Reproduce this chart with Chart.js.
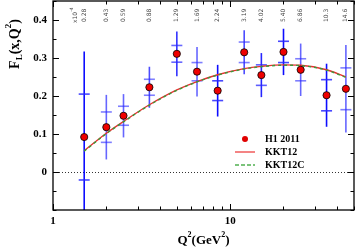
<!DOCTYPE html>
<html>
<head>
<meta charset="utf-8">
<script src="https://cdn.jsdelivr.net/npm/chart.js@4/dist/chart.umd.min.js"></script>
<style>
  html, body { margin: 0; padding: 0; background: #fff; }
  #wrap { width: 357px; height: 250px; }
</style>
</head>
<body>
<div id="wrap"><canvas id="flChart"></canvas></div>
<script>
// H1 2011 data points
const q2 = [1.5, 2, 2.5, 3.5, 5, 6.5, 8.5, 12, 15, 20, 25, 35, 45];
const fl = [0.092, 0.118, 0.148, 0.223, 0.311, 0.264, 0.214, 0.315, 0.255, 0.316, 0.269, 0.202, 0.219];
const errInner = [0.113, 0.040, 0.025, 0.021, 0.022, 0.024, 0.026, 0.027, 0.027, 0.028, 0.029, 0.041, 0.055];
const errTotal = [0.225, 0.085, 0.057, 0.054, 0.059, 0.065, 0.068, 0.058, 0.058, 0.061, 0.069, 0.083, 0.115];
const xBjLabels = ['0.28', '0.43', '0.59', '0.88', '1.29', '1.69', '2.24', '3.19', '4.02', '5.40', '6.86', '10.3', '14.6'];

// model curves
const curveQ2 = [1.5, 2, 2.5, 3.5, 5, 6.5, 8.5, 12, 15, 20, 25, 35, 45];
const kkt12 = [0.056, 0.102, 0.133, 0.177, 0.216, 0.238, 0.256, 0.272, 0.278, 0.282, 0.281, 0.269, 0.250];
const kkt12c = [0.055, 0.101, 0.132, 0.176, 0.215, 0.237, 0.255, 0.271, 0.277, 0.281, 0.280, 0.268, 0.249];

// axis ticks
const xTicks = [1, 2, 3, 4, 5, 6, 7, 8, 9, 10, 20, 30, 40, 50];
const xMajor = [1, 10];
const yTicks = [-0.1, -0.05, 0, 0.05, 0.1, 0.15, 0.2, 0.25, 0.3, 0.35, 0.4, 0.45];
const yMajor = [0, 0.1, 0.2, 0.3, 0.4];
const yMajorLabels = ['0', '0.1', '0.2', '0.3', '0.4'];

const SERIF = "'Liberation Serif', 'DejaVu Serif', serif";
const barAlpha = [0.95, 0.6, 0.6, 0.7, 0.8, 0.6, 0.95, 0.7, 0.85, 0.95, 0.6, 0.95, 0.6];

function isMajorY(v) {
    return yMajor.findIndex(m => Math.abs(m - v) < 1e-6);
}

function drawRich(ctx, parts, x, y, align) {
    let total = 0;
    parts.forEach(p => {
        ctx.font = 'bold ' + p.size + 'px ' + SERIF;
        p.w = ctx.measureText(p.t).width;
        total += p.w;
    });
    let cx = align === 'center' ? x - total / 2 : x;
    parts.forEach(p => {
        ctx.font = 'bold ' + p.size + 'px ' + SERIF;
        ctx.fillText(p.t, cx, y + (p.dy || 0));
        cx += p.w;
    });
}

const framePlugin = {
    id: 'frame',
    beforeDatasetsDraw(chart) {
        const {ctx, chartArea: a, scales: {x, y}} = chart;
        ctx.save();
        ctx.beginPath();
        ctx.rect(a.left, a.top, a.right - a.left, a.bottom - a.top);
        ctx.clip();

        // zero line
        ctx.strokeStyle = '#333';
        ctx.lineWidth = 1;
        ctx.setLineDash([1, 2]);
        ctx.beginPath();
        ctx.moveTo(a.left, Math.round(y.getPixelForValue(0)) + 0.5);
        ctx.lineTo(a.right, Math.round(y.getPixelForValue(0)) + 0.5);
        ctx.stroke();
        ctx.setLineDash([]);

        // error bars
        q2.forEach((q, i) => {
            const px = x.getPixelForValue(q);
            ctx.strokeStyle = 'rgba(0,0,255,' + barAlpha[i] + ')';
            ctx.lineWidth = 1.6;
            ctx.beginPath();
            ctx.moveTo(px, y.getPixelForValue(fl[i] + errTotal[i]));
            ctx.lineTo(px, y.getPixelForValue(fl[i] - errTotal[i]));
            ctx.stroke();
            ctx.strokeStyle = 'rgba(40,40,255,' + Math.max(0.6, barAlpha[i] - 0.1) + ')';
            [fl[i] + errInner[i], fl[i] - errInner[i]].forEach(v => {
                const py = y.getPixelForValue(v);
                ctx.beginPath();
                ctx.moveTo(px - 5.5, py);
                ctx.lineTo(px + 5.5, py);
                ctx.stroke();
            });
        });
        ctx.restore();
    },
    afterDraw(chart) {
        const {ctx, chartArea: a, scales: {x, y}} = chart;
        ctx.save();
        ctx.strokeStyle = '#000';
        ctx.lineWidth = 1;

        // inward ticks on all four sides
        ctx.beginPath();
        xTicks.forEach(v => {
            const px = Math.round(x.getPixelForValue(v)) + 0.5;
            const len = xMajor.includes(v) ? 6 : 3.5;
            ctx.moveTo(px, a.bottom);
            ctx.lineTo(px, a.bottom - len);
            ctx.moveTo(px, a.top);
            ctx.lineTo(px, a.top + len);
        });
        yTicks.forEach(v => {
            const py = Math.round(y.getPixelForValue(v)) + 0.5;
            const len = isMajorY(v) >= 0 ? 6 : 3.5;
            ctx.moveTo(a.left, py);
            ctx.lineTo(a.left + len, py);
            ctx.moveTo(a.right, py);
            ctx.lineTo(a.right - len, py);
        });
        ctx.stroke();

        // frame
        ctx.lineWidth = 1.3;
        ctx.strokeRect(a.left, a.top, a.right - a.left, a.bottom - a.top);

        // top labels: x values of the points
        ctx.fillStyle = '#444';
        ctx.textBaseline = 'middle';
        q2.forEach((q, i) => {
            const px = x.getPixelForValue(q);
            ctx.save();
            ctx.translate(px, 22);
            ctx.rotate(-Math.PI / 2);
            ctx.font = '6px ' + "'DejaVu Sans', sans-serif";
            ctx.textAlign = 'left';
            ctx.fillText(xBjLabels[i], 0, 0);
            ctx.restore();
        });
        ctx.save();
        ctx.translate(x.getPixelForValue(1.33), 23);
        ctx.rotate(-Math.PI / 2);
        ctx.textAlign = 'left';
        ctx.font = '6px ' + "'DejaVu Sans', sans-serif";
        ctx.fillText('x10', 0, 0);
        const w = ctx.measureText('x10').width;
        ctx.font = '4.5px ' + "'DejaVu Sans', sans-serif";
        ctx.fillText('-4', w, -3);
        ctx.restore();

        // axis titles
        ctx.fillStyle = '#000';
        ctx.textBaseline = 'alphabetic';
        drawRich(ctx, [
            {t: 'Q', size: 13},
            {t: '2', size: 8, dy: -7},
            {t: '(GeV', size: 13},
            {t: '2', size: 8, dy: -7},
            {t: ')', size: 13}
        ], (a.left + a.right) / 2, 244, 'center');

        ctx.save();
        ctx.translate(19, 44);
        ctx.rotate(-Math.PI / 2);
        drawRich(ctx, [
            {t: 'F', size: 14},
            {t: 'L', size: 9, dy: 3},
            {t: '(x,Q', size: 14},
            {t: '2', size: 9, dy: -8},
            {t: ')', size: 14}
        ], 0, 0, 'center');
        ctx.restore();

        // legend
        ctx.font = 'bold 10px ' + SERIF;
        ctx.textBaseline = 'middle';
        ctx.fillStyle = '#e00000';
        ctx.beginPath();
        ctx.arc(245, 139, 3, 0, Math.PI * 2);
        ctx.fill();
        ctx.fillStyle = '#000';
        ctx.fillText('H1 2011', 265, 139);
        ctx.lineWidth = 1.4;
        ctx.strokeStyle = '#f05050';
        ctx.beginPath();
        ctx.moveTo(235, 152);
        ctx.lineTo(255, 152);
        ctx.stroke();
        ctx.fillText('KKT12', 265, 152);
        ctx.strokeStyle = '#50b050';
        ctx.setLineDash([4, 2]);
        ctx.beginPath();
        ctx.moveTo(235, 165);
        ctx.lineTo(255, 165);
        ctx.stroke();
        ctx.setLineDash([]);
        ctx.fillText('KKT12C', 265, 165);
        ctx.restore();
    }
};

new Chart('flChart', {
    type: 'scatter',
    data: {
        datasets: [{
            label: 'H1 2011',
            data: q2.map((q, i) => ({x: q, y: fl[i]})),
            backgroundColor: '#ee0000',
            borderColor: '#000',
            borderWidth: 0.8,
            pointRadius: 3.6,
            order: 0
        }, {
            label: 'KKT12',
            type: 'line',
            data: curveQ2.map((q, i) => ({x: q, y: kkt12[i]})),
            borderColor: '#e83030',
            borderWidth: 1.4,
            pointRadius: 0,
            cubicInterpolationMode: 'monotone',
            order: 2
        }, {
            label: 'KKT12C',
            type: 'line',
            data: curveQ2.map((q, i) => ({x: q, y: kkt12c[i]})),
            borderColor: '#3a9a3a',
            borderWidth: 1.4,
            borderDash: [3, 3],
            pointRadius: 0,
            cubicInterpolationMode: 'monotone',
            order: 1
        }]
    },
    options: {
        responsive: true,
        maintainAspectRatio: false,
        animation: false,
        events: [],
        layout: {autoPadding: false, padding: {top: 1, right: 3, left: 0, bottom: 0}},
        plugins: {legend: {display: false}, tooltip: {enabled: false}},
        scales: {
            x: {
                type: 'logarithmic',
                min: 1,
                max: 50,
                afterBuildTicks: s => { s.ticks = xTicks.map(v => ({value: v})); },
                afterFit: s => { s.height = 40; s.paddingLeft = 0; s.paddingRight = 0; },
                grid: {display: false, drawTicks: false},
                border: {display: false},
                ticks: {
                    autoSkip: false,
                    maxRotation: 0,
                    padding: 5,
                    color: '#000',
                    font: {family: SERIF, size: 11, weight: 'bold'},
                    callback: v => xMajor.includes(v) ? String(v) : ''
                }
            },
            y: {
                min: -0.1,
                max: 0.45,
                afterBuildTicks: s => { s.ticks = yTicks.map(v => ({value: v})); },
                afterFit: s => { s.width = 53; s.paddingTop = 0; s.paddingBottom = 0; },
                grid: {display: false, drawTicks: false},
                border: {display: false},
                ticks: {
                    autoSkip: false,
                    padding: 6,
                    color: '#000',
                    font: {family: SERIF, size: 11, weight: 'bold'},
                    callback: v => {
                        const k = isMajorY(v);
                        return k >= 0 ? yMajorLabels[k] : '';
                    }
                }
            }
        }
    },
    plugins: [framePlugin]
});
</script>
</body>
</html>
